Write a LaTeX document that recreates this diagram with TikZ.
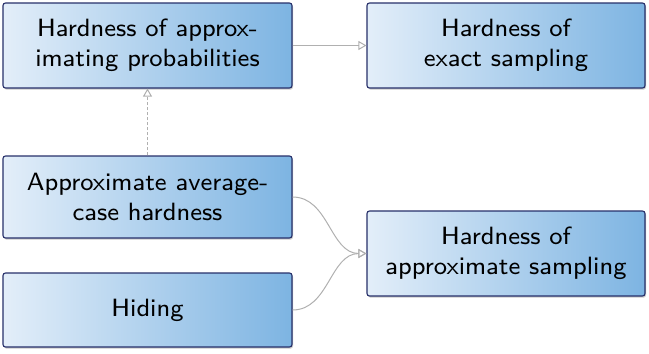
\documentclass[tikz,border=0pt]{standalone}
\usepackage{fontspec}
\setsansfont{lmsans8-regular.otf}
\usetikzlibrary{arrows.meta,shadows}
\definecolor{boxborder}{HTML}{27306A}
\definecolor{boxleft}{HTML}{E3EEF9}
\definecolor{boxright}{HTML}{7DB4E2}
\definecolor{edgegray}{HTML}{B0B0B0}
\begin{document}
\begin{tikzpicture}[x=1pt,y=-1pt,
  box/.style={draw=boxborder, line width=1.1pt, rounded corners=2.5pt,
    left color=boxleft, right color=boxright, inner sep=0pt,
    align=center, font=\sffamily\fontsize{25}{30}\selectfont,
    drop shadow={shadow xshift=1pt, shadow yshift=-1.6pt, opacity=0.35, fill=black!60}},
  conn/.style={draw=edgegray, line width=1pt, -{Triangle[open, length=8pt, width=9pt]}}]
\useasboundingbox (0,0) rectangle (649,354);
\node[box, minimum width=289pt, minimum height=85pt] (b1) at (147.5,45.5) {Hardness of approx-\\imating probabilities};
\node[box, minimum width=278pt, minimum height=85pt] (b2) at (506,45.5) {Hardness of\\exact sampling};
\node[box, minimum width=289pt, minimum height=82pt] (b3) at (147.5,197) {Approximate average-\\case hardness};
\node[box, minimum width=289pt, minimum height=74pt] (b4) at (147.5,310) {Hiding};
\node[box, minimum width=278pt, minimum height=85pt] (b5) at (506,253.5) {Hardness of\\approximate sampling};
\draw[conn] (b1) -- (b2);
\draw[conn, densely dashed] (b3) -- (b1);
\draw[conn] (b3.east) to[out=0, in=180] (b5.west);
\draw[conn] (b4.east) to[out=0, in=180] (b5.west);
\end{tikzpicture}
\end{document}
